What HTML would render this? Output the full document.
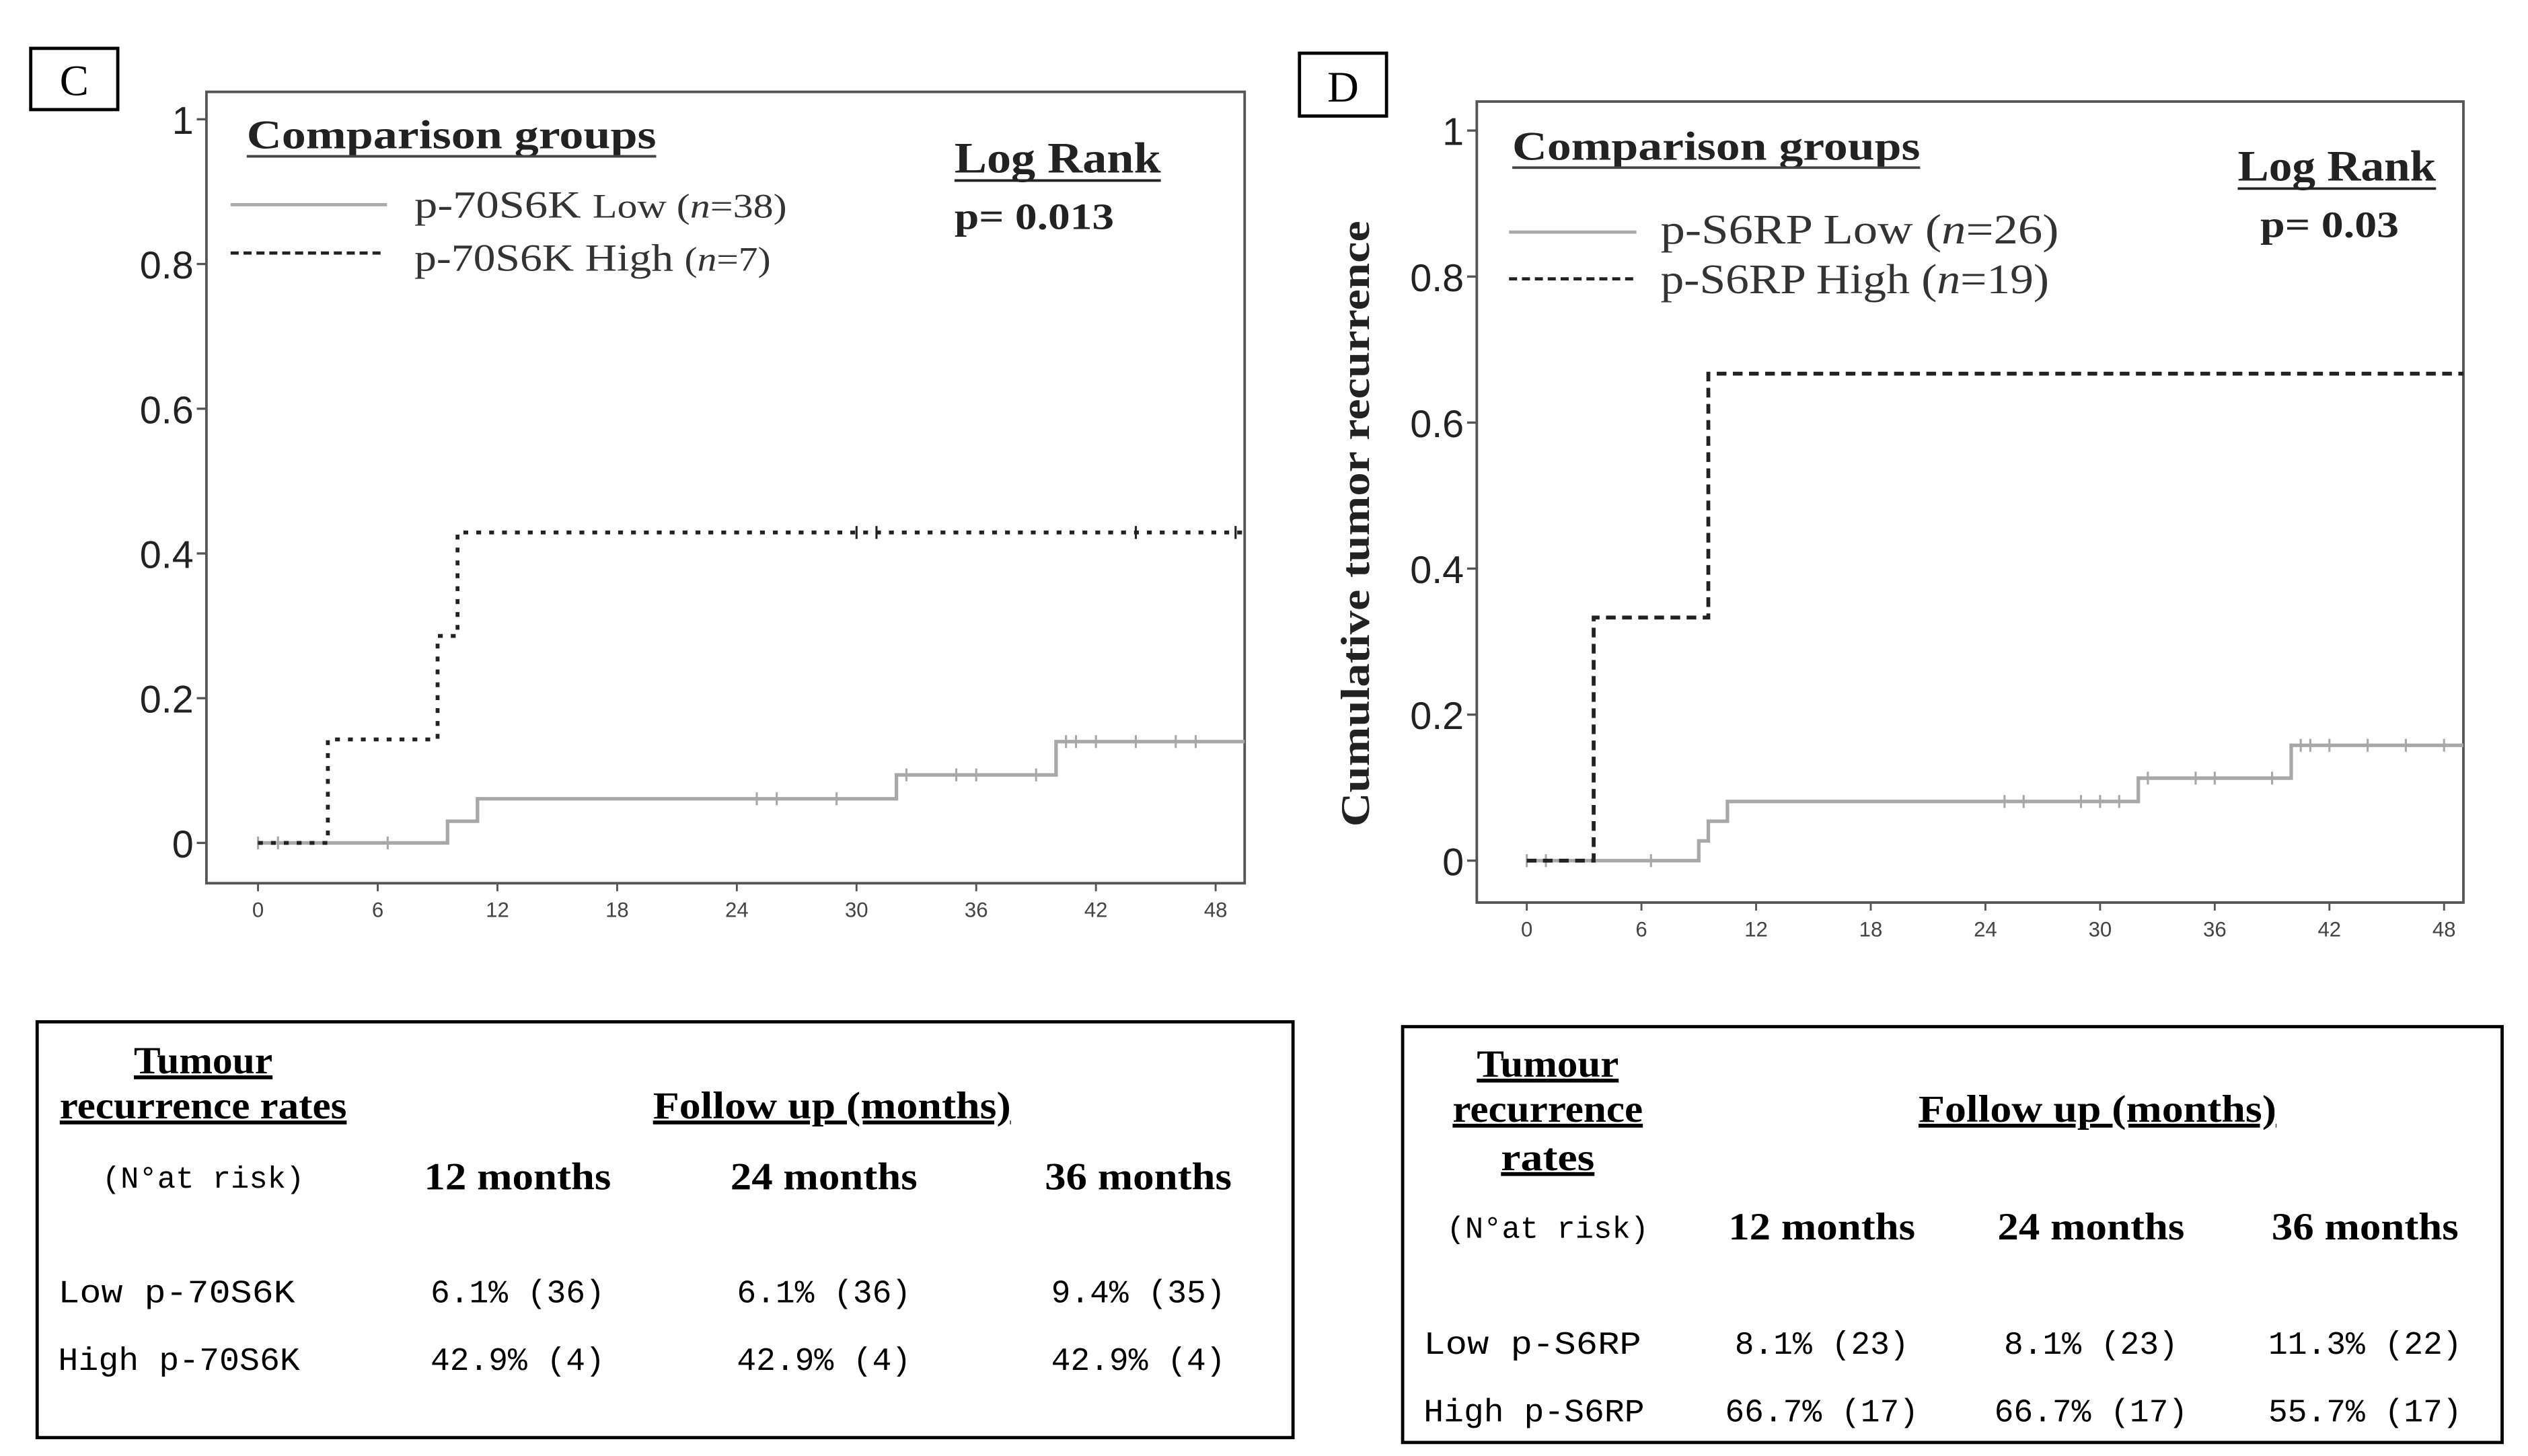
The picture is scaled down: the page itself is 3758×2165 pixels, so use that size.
<!DOCTYPE html>
<html><head><meta charset="utf-8">
<style>
html,body{margin:0;padding:0;background:#fff;width:3758px;height:2165px;overflow:hidden}
svg{display:block}
.ser{font-family:"Liberation Serif",serif}
.san{font-family:"Liberation Sans",sans-serif}
.mono{font-family:"Liberation Mono",monospace}
</style></head>
<body>
<svg id="root" width="3758" height="2165" viewBox="0 0 1568 903.4" xmlns="http://www.w3.org/2000/svg">
<defs>
<clipPath id="clipC"><rect x="128" y="57" width="644" height="491"/></clipPath>
<clipPath id="clipD"><rect x="916" y="63" width="612" height="497"/></clipPath>
</defs>
<rect x="0" y="0" width="1568" height="903.4" fill="#fff"/>
<!-- Panel C -->
<g>
<rect x="19" y="30" width="54" height="38" fill="none" stroke="#000" stroke-width="2"/>
<text class="ser" x="46" y="59" font-size="27" text-anchor="middle">C</text>
<g id="plotC"></g>
<text class="ser" x="153" y="92" font-size="25" font-weight="bold" fill="#222" textLength="254" lengthAdjust="spacingAndGlyphs">Comparison groups</text>
<line x1="153" y1="97" x2="407" y2="97" stroke="#444" stroke-width="1.6"/>
<line x1="143" y1="127" x2="240" y2="127" stroke="#aaa" stroke-width="2"/>
<text class="ser" x="257" y="135" font-size="24" fill="#333" textLength="231" lengthAdjust="spacingAndGlyphs">p-70S6K <tspan font-size="21">Low (<tspan font-style="italic">n</tspan>=38)</tspan></text>
<line x1="143" y1="157" x2="238" y2="157" stroke="#222" stroke-width="2" stroke-dasharray="5,3"/>
<text class="ser" x="257" y="168" font-size="24" fill="#333" textLength="221" lengthAdjust="spacingAndGlyphs">p-70S6K High <tspan font-size="21">(<tspan font-style="italic">n</tspan>=7)</tspan></text>
<text class="ser" x="592" y="107" font-size="27" font-weight="bold" fill="#222" textLength="128" lengthAdjust="spacingAndGlyphs">Log Rank</text>
<line x1="592" y1="112" x2="720" y2="112" stroke="#222" stroke-width="1.6"/>
<text class="ser" x="592" y="142" font-size="23" font-weight="bold" fill="#222" textLength="99" lengthAdjust="spacingAndGlyphs">p= 0.013</text>
</g>
<!-- Panel D -->
<g>
<rect x="806" y="33" width="54" height="39" fill="none" stroke="#000" stroke-width="2"/>
<text class="ser" x="833" y="63" font-size="27" text-anchor="middle">D</text>
<g id="plotD"></g>
<text class="ser" transform="translate(849,325) rotate(-90)" font-size="25" font-weight="bold" text-anchor="middle" fill="#222" textLength="376" lengthAdjust="spacingAndGlyphs">Cumulative tumor recurrence</text>
<text class="ser" x="938" y="99" font-size="25" font-weight="bold" fill="#222" textLength="253" lengthAdjust="spacingAndGlyphs">Comparison groups</text>
<line x1="938" y1="104" x2="1191" y2="104" stroke="#444" stroke-width="1.6"/>
<line x1="936" y1="144" x2="1015" y2="144" stroke="#aaa" stroke-width="2"/>
<text class="ser" x="1030" y="151" font-size="26" fill="#333" textLength="247" lengthAdjust="spacingAndGlyphs">p-S6RP Low (<tspan font-style="italic">n</tspan>=26)</text>
<line x1="936" y1="173" x2="1013" y2="173" stroke="#222" stroke-width="2" stroke-dasharray="5,3"/>
<text class="ser" x="1030" y="182" font-size="26" fill="#333" textLength="241" lengthAdjust="spacingAndGlyphs">p-S6RP High (<tspan font-style="italic">n</tspan>=19)</text>
<text class="ser" x="1388" y="112" font-size="27" font-weight="bold" fill="#222" textLength="123" lengthAdjust="spacingAndGlyphs">Log Rank</text>
<line x1="1388" y1="117" x2="1511" y2="117" stroke="#222" stroke-width="1.6"/>
<text class="ser" x="1402" y="147" font-size="23" font-weight="bold" fill="#222" textLength="86" lengthAdjust="spacingAndGlyphs">p= 0.03</text>
</g>
<!-- Table C -->
<g>
<rect x="23" y="634" width="779" height="258" fill="none" stroke="#000" stroke-width="2"/>
<text class="ser" x="126" y="666" font-size="24" font-weight="bold" text-anchor="middle" text-decoration="underline" textLength="86" lengthAdjust="spacingAndGlyphs">Tumour</text>
<text class="ser" x="126" y="694" font-size="24" font-weight="bold" text-anchor="middle" text-decoration="underline" textLength="178" lengthAdjust="spacingAndGlyphs">recurrence rates</text>
<text class="ser" x="516" y="694" font-size="24" font-weight="bold" text-anchor="middle" text-decoration="underline" textLength="222" lengthAdjust="spacingAndGlyphs">Follow up (months)</text>
<text class="mono" x="126" y="737" font-size="19" text-anchor="middle">(N°at risk)</text>
<text class="ser" x="321" y="738" font-size="24" font-weight="bold" text-anchor="middle" textLength="116" lengthAdjust="spacingAndGlyphs">12 months</text>
<text class="ser" x="511" y="738" font-size="24" font-weight="bold" text-anchor="middle" textLength="116" lengthAdjust="spacingAndGlyphs">24 months</text>
<text class="ser" x="706" y="738" font-size="24" font-weight="bold" text-anchor="middle" textLength="116" lengthAdjust="spacingAndGlyphs">36 months</text>
<text class="mono" x="36" y="808" font-size="20" textLength="147" lengthAdjust="spacingAndGlyphs">Low p-70S6K</text>
<text class="mono" x="36" y="850" font-size="20" textLength="150" lengthAdjust="spacingAndGlyphs">High p-70S6K</text>
<text class="mono" x="321" y="808" font-size="20" text-anchor="middle">6.1% (36)</text>
<text class="mono" x="511" y="808" font-size="20" text-anchor="middle">6.1% (36)</text>
<text class="mono" x="706" y="808" font-size="20" text-anchor="middle">9.4% (35)</text>
<text class="mono" x="321" y="850" font-size="20" text-anchor="middle">42.9% (4)</text>
<text class="mono" x="511" y="850" font-size="20" text-anchor="middle">42.9% (4)</text>
<text class="mono" x="706" y="850" font-size="20" text-anchor="middle">42.9% (4)</text>
</g>
<!-- Table D -->
<g>
<rect x="870" y="637" width="682" height="258" fill="none" stroke="#000" stroke-width="2"/>
<text class="ser" x="960" y="668" font-size="24" font-weight="bold" text-anchor="middle" text-decoration="underline" textLength="88" lengthAdjust="spacingAndGlyphs">Tumour</text>
<text class="ser" x="960" y="696" font-size="24" font-weight="bold" text-anchor="middle" text-decoration="underline" textLength="118" lengthAdjust="spacingAndGlyphs">recurrence</text>
<text class="ser" x="960" y="726" font-size="24" font-weight="bold" text-anchor="middle" text-decoration="underline" textLength="58" lengthAdjust="spacingAndGlyphs">rates</text>
<text class="ser" x="1301" y="696" font-size="24" font-weight="bold" text-anchor="middle" text-decoration="underline" textLength="222" lengthAdjust="spacingAndGlyphs">Follow up (months)</text>
<text class="mono" x="960" y="768" font-size="19" text-anchor="middle">(N°at risk)</text>
<text class="ser" x="1130" y="769" font-size="24" font-weight="bold" text-anchor="middle" textLength="116" lengthAdjust="spacingAndGlyphs">12 months</text>
<text class="ser" x="1297" y="769" font-size="24" font-weight="bold" text-anchor="middle" textLength="116" lengthAdjust="spacingAndGlyphs">24 months</text>
<text class="ser" x="1467" y="769" font-size="24" font-weight="bold" text-anchor="middle" textLength="116" lengthAdjust="spacingAndGlyphs">36 months</text>
<text class="mono" x="883" y="840" font-size="20" textLength="135" lengthAdjust="spacingAndGlyphs">Low p-S6RP</text>
<text class="mono" x="883" y="882" font-size="20" textLength="137" lengthAdjust="spacingAndGlyphs">High p-S6RP</text>
<text class="mono" x="1130" y="840" font-size="20" text-anchor="middle">8.1% (23)</text>
<text class="mono" x="1297" y="840" font-size="20" text-anchor="middle">8.1% (23)</text>
<text class="mono" x="1467" y="840" font-size="20" text-anchor="middle">11.3% (22)</text>
<text class="mono" x="1130" y="882" font-size="20" text-anchor="middle">66.7% (17)</text>
<text class="mono" x="1297" y="882" font-size="20" text-anchor="middle">66.7% (17)</text>
<text class="mono" x="1467" y="882" font-size="20" text-anchor="middle">55.7% (17)</text>
</g>
</svg>
<script>
const xTicks = [0, 6, 12, 18, 24, 30, 36, 42, 48];
const yTicks = [0, 0.2, 0.4, 0.6, 0.8, 1];
const yTickLabels = ["0", "0.2", "0.4", "0.6", "0.8", "1"];
// Panel C
const cLowTimes = [0, 9.5, 11, 32, 40, 51.5];
const cLowVals = [0, 0.03, 0.061, 0.094, 0.14, 0.14];
const cLowCensor = [0, 1, 6.5, 25, 26, 29, 32.5, 35, 36, 39, 40.5, 41, 42, 44, 46, 47];
const cHighTimes = [0, 3.5, 9, 10, 50.5];
const cHighVals = [0, 0.143, 0.286, 0.429, 0.429];
const cHighCensor = [30, 31, 44, 49];
// Panel D
const dLowTimes = [0, 9, 9.5, 10.5, 32, 40, 51];
const dLowVals = [0, 0.027, 0.054, 0.081, 0.113, 0.158, 0.158];
const dLowCensor = [0, 1, 6.5, 25, 26, 29, 30, 31, 32.5, 35, 36, 39, 40.5, 41, 42, 44, 46, 48];
const dHighTimes = [0, 3.5, 9.5, 51];
const dHighVals = [0, 0.333, 0.667, 0.667];
const dHighCensor = [50];

const NS = "http://www.w3.org/2000/svg";
function mk(tag, attrs, parent) {
  const e = document.createElementNS(NS, tag);
  for (const k in attrs) e.setAttribute(k, attrs[k]);
  parent.appendChild(e);
  return e;
}
function drawChart(g, cfg, lowT, lowV, lowC, highT, highV, highC, id) {
  const xs = t => cfg.x0 + (t / 48) * (cfg.x48 - cfg.x0);
  const ys = v => cfg.y0 + v * (cfg.y1 - cfg.y0);
  const frame = mk("rect", {x: cfg.L, y: cfg.T, width: cfg.R - cfg.L, height: cfg.B - cfg.T, fill: "none", stroke: "#555", "stroke-width": 1.6}, g);
  
  
  yTicks.forEach((v, i) => {
    const tk = mk("line", {x1: cfg.L - 6, x2: cfg.L, y1: ys(v), y2: ys(v), stroke: "#555", "stroke-width": 1.4}, g);
    
    
    const lb = mk("text", {x: cfg.L - 8, y: ys(v) + 9, "font-size": 24, "text-anchor": "end", "class": "san", fill: "#222"}, g);
    lb.textContent = yTickLabels[i];
    
    
  });
  xTicks.forEach(t => {
    const tk = mk("line", {x1: xs(t), x2: xs(t), y1: cfg.B, y2: cfg.B + 5, stroke: "#555", "stroke-width": 1.2}, g);
    
    
    const lb = mk("text", {x: xs(t), y: cfg.B + 21, "font-size": 13, "text-anchor": "middle", "class": "san", fill: "#444"}, g);
    lb.textContent = String(t);
    
    
  });
  const cg = mk("g", {"clip-path": "url(#" + cfg.clip + ")"}, g);
  
  
  function step(T, V) {
    let d = "M" + xs(T[0]) + "," + ys(V[0]);
    for (let i = 1; i < T.length; i++) {
      d += " H" + xs(T[i]) + " V" + ys(V[i]);
    }
    return d;
  }
  function valAt(T, V, t) { let v = V[0]; for (let i = 0; i < T.length; i++) if (T[i] <= t) v = V[i]; return v; }
  const low = mk("path", {d: step(lowT, lowV), fill: "none", stroke: "#a8a8a8", "stroke-width": 2.2}, cg);
  
  
  lowC.forEach(t => {
    const m = mk("line", {x1: xs(t), x2: xs(t), y1: ys(valAt(lowT, lowV, t)) - 4, y2: ys(valAt(lowT, lowV, t)) + 4, stroke: "#a8a8a8", "stroke-width": 1.3}, cg);
    
    
  });
  const high = mk("path", {d: step(highT, highV), fill: "none", stroke: "#222", "stroke-width": 2.4, "stroke-dasharray": cfg.dash}, cg);
  
  
  highC.forEach(t => {
    const m = mk("line", {x1: xs(t), x2: xs(t), y1: ys(valAt(highT, highV, t)) - 4, y2: ys(valAt(highT, highV, t)) + 4, stroke: "#222", "stroke-width": 1.3}, cg);
    
    
  });
}
drawChart(document.getElementById("plotC"), {L: 128, T: 57, R: 772, B: 548, x0: 160, x48: 754, y0: 523, y1: 74, dash: "3,5", clip: "clipC"},
  cLowTimes, cLowVals, cLowCensor, cHighTimes, cHighVals, cHighCensor, "c");
drawChart(document.getElementById("plotD"), {L: 916, T: 63, R: 1528, B: 560, x0: 947, x48: 1516, y0: 534, y1: 81, dash: "6,4", clip: "clipD"},
  dLowTimes, dLowVals, dLowCensor, dHighTimes, dHighVals, dHighCensor, "d");
</script>
</body></html>
